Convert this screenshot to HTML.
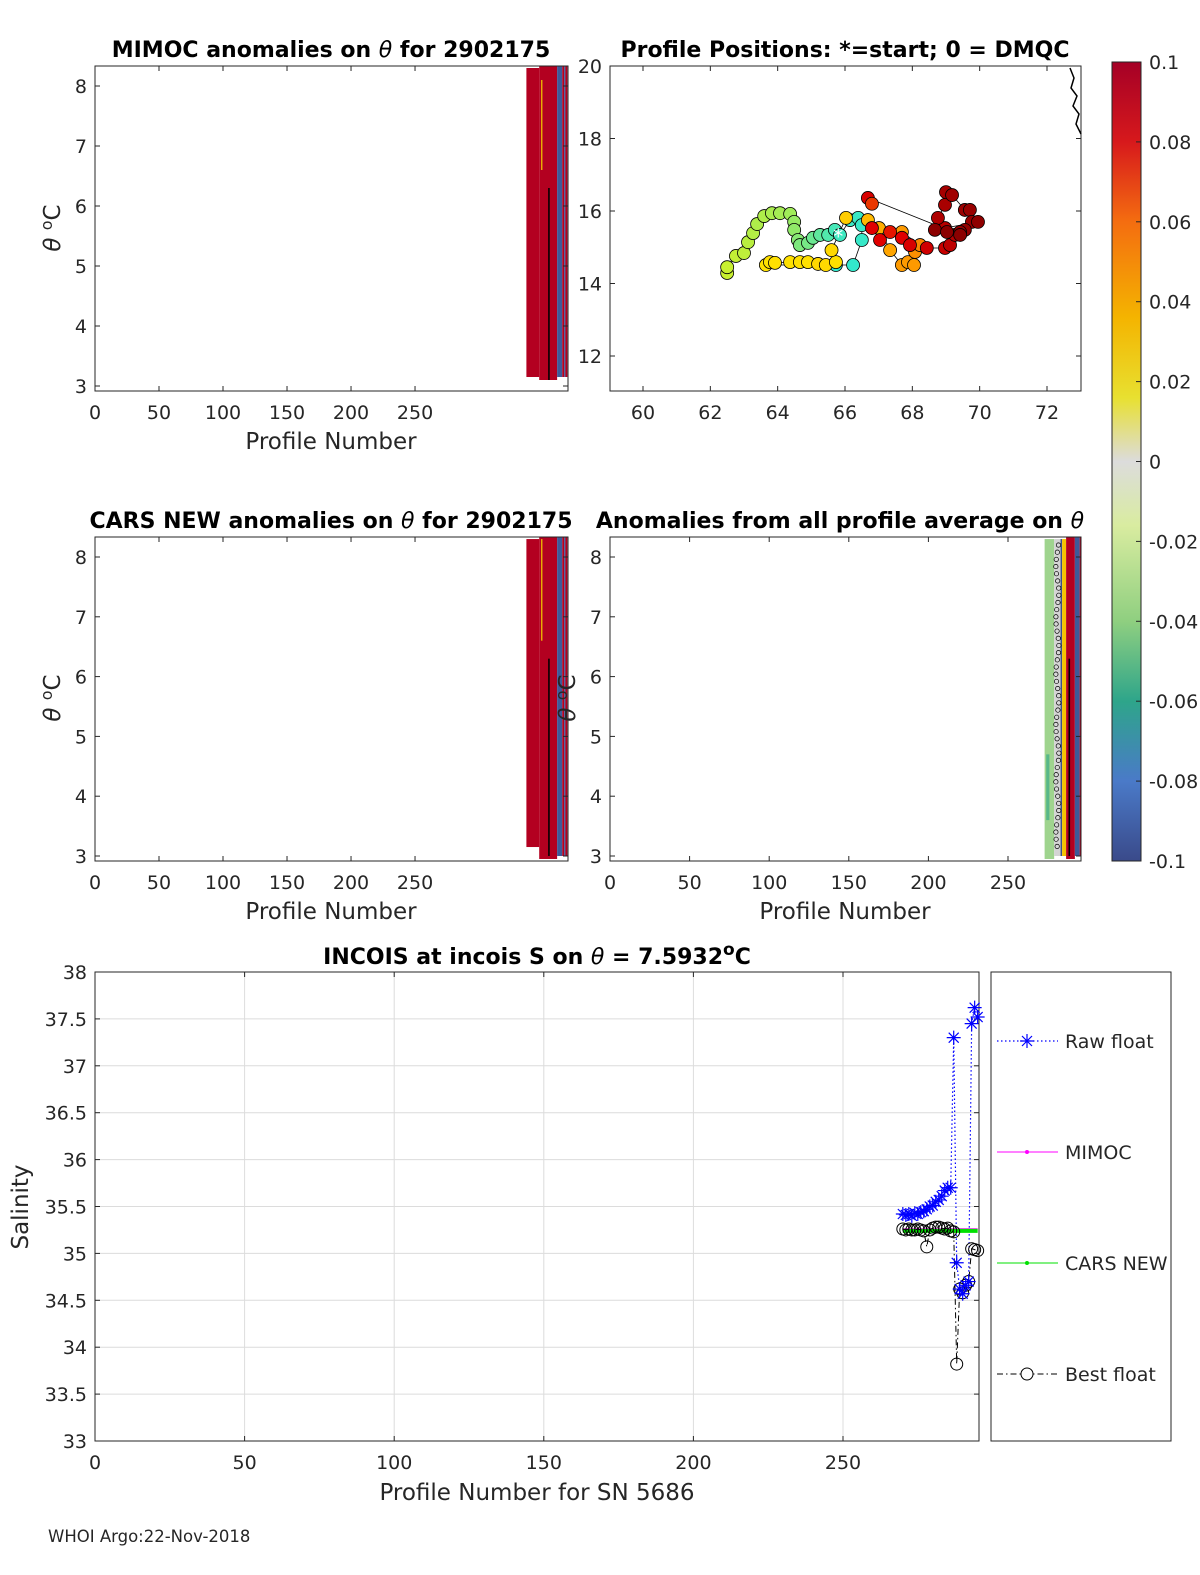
<!DOCTYPE html>
<html><head><meta charset="utf-8">
<style>
html,body{margin:0;padding:0;background:#fff;overflow:hidden;width:1200px;height:1575px;}
svg{display:block;font-family:"DejaVu Sans","Liberation Sans",sans-serif;}
.t{font-size:19px;fill:#262626}
.ti{font-size:22px;font-weight:bold;fill:#000}
.al{font-size:23px;fill:#262626}
.lg{font-size:19px;fill:#262626}
</style></head>
<body>
<svg id="fig" width="1200" height="1575" viewBox="0 0 1200 1575"></svg>
<script>
// ---------- data ----------
var profileNums=[270,271,272,273,274,275,276,277,278,279,280,281,282,283,284,285,286,287,288,289,290,291,292,293,294,295];
var rawFloat=[35.42,35.41,35.42,35.40,35.43,35.42,35.44,35.45,35.47,35.50,35.51,35.55,35.57,35.61,35.67,35.70,35.70,37.30,34.90,34.62,34.57,34.66,34.70,37.45,37.62,37.52];
var bestFloat=[35.26,35.25,35.26,35.25,35.25,35.26,35.25,35.24,35.07,35.25,35.27,35.28,35.28,35.27,35.26,35.27,35.24,35.23,33.82,34.62,34.58,34.66,34.70,35.05,35.04,35.03];
var mimocVals=[35.26,35.26,35.26,35.26,35.26,35.26,35.26,35.26,35.26,35.26,35.26,35.26,35.26,35.26,35.26,35.26,35.26,35.26,35.26,35.26,35.26,35.26,35.26,35.26,35.26,35.26];
var carsVals=[35.24,35.24,35.24,35.24,35.24,35.24,35.24,35.24,35.24,35.24,35.24,35.24,35.24,35.24,35.24,35.24,35.24,35.24,35.24,35.24,35.24,35.24,35.24,35.24,35.24,35.24];
var salTicks=[33,33.5,34,34.5,35,35.5,36,36.5,37,37.5,38];
var profTicksB=[0,50,100,150,200,250];
var thetaTicks=[3,4,5,6,7,8];
var lonTicks=[60,62,64,66,68,70,72];
var latTicks=[12,14,16,18,20];
var cbTicks=[0.1,0.08,0.06,0.04,0.02,0,-0.02,-0.04,-0.06,-0.08,-0.1];
var posLon=[62.5,62.5,62.76,63.0,63.12,63.27,63.39,63.6,63.83,64.07,64.37,64.49,64.49,64.6,64.66,64.9,65.05,65.26,65.5,65.7,65.85,66.15,66.39,66.5,66.5,66.24,65.73,63.65,63.77,63.92,64.37,64.66,64.9,65.2,65.43,65.73,65.6,66.03,66.68,67.01,67.34,67.69,67.87,68.05,68.08,68.23,67.69,66.8,67.04,67.34,67.69,67.93,68.43,68.97,69.12,69.27,68.97,68.76,68.97,69.0,69.18,69.56,69.71,69.77,69.56,69.42,69.95,68.67,69.03,69.42,66.68,66.8];
var posLat=[14.29,14.45,14.76,14.84,15.14,15.39,15.64,15.86,15.94,15.94,15.92,15.7,15.48,15.2,15.06,15.12,15.26,15.34,15.34,15.48,15.34,15.75,15.81,15.61,15.2,14.51,14.51,14.51,14.59,14.57,14.59,14.59,14.59,14.54,14.51,14.59,14.92,15.81,15.75,15.53,14.92,14.51,14.59,14.51,14.87,15.06,15.42,15.53,15.2,15.42,15.26,15.06,14.98,14.98,15.06,15.34,15.53,15.81,16.17,16.52,16.44,16.03,16.03,15.7,15.48,15.42,15.7,15.48,15.42,15.34,16.36,16.2];
var posCol=[0.35,0.35,0.34,0.33,0.32,0.31,0.3,0.3,0.29,0.28,0.27,0.25,0.24,0.22,0.2,0.18,0.15,0.12,0.08,0.05,0.03,0.02,0.02,0.01,0.01,0.0,0.0,0.5,0.5,0.5,0.5,0.5,0.5,0.52,0.52,0.5,0.52,0.55,0.6,0.63,0.65,0.66,0.66,0.66,0.67,0.68,0.66,0.8,0.8,0.78,0.8,0.82,0.84,0.86,0.88,0.9,0.9,0.92,0.93,0.94,0.95,0.96,0.97,0.97,0.98,0.98,0.99,1.0,1.0,1.0,0.82,0.75];
// heatmap columns: [profStart, profEnd, thetaTop, thetaBottom, color]
var mimocCols=[[337,347,8.3,3.15,"#b30020"],[347,361,8.33,3.1,"#b30020"],[348.5,349.5,8.1,6.6,"#f0c000"],[354,355.2,6.3,3.1,"#000"],[361,365,8.33,3.15,"#3d5a99"],[365,366.5,8.33,3.15,"#b30020"],[366.5,367.5,8.33,3.15,"#3d5a99"],[367.5,369,8.33,3.15,"#b30020"]];
var carsCols=[[337,347,8.3,3.15,"#b30020"],[347,361,8.33,2.95,"#b30020"],[348.5,349.5,8.3,6.6,"#f0c000"],[354,355.2,6.3,3.0,"#000"],[361,365,8.33,3.0,"#3d5a99"],[365,366.5,8.33,3.0,"#b30020"],[366.5,367.5,8.33,3.0,"#3d5a99"],[367.5,369,8.33,3.0,"#b30020"]];
var avgCols=[[273,279,8.3,2.95,"#9fd48e"],[274,276,4.7,3.6,"#58b88a"],[279,283,8.3,3.0,"#d4d4d4"],[283,284,8.3,3.0,"#3d4f8a"],[284,286.5,8.3,3.0,"#f5c400"],[286.5,292,8.33,2.95,"#b30020"],[288,289,6.3,3.0,"#000"],[292,295,8.33,3.0,"#3d5a99"],[295,296,8.33,3.0,"#b30020"]];

// ---------- helpers ----------
var NS="http://www.w3.org/2000/svg", svg=document.getElementById('fig');
function mk(tag,at,parent){var e=document.createElementNS(NS,tag);for(var k in at)e.setAttribute(k,at[k]);(parent||svg).appendChild(e);return e;}
function txt(s,x,y,cls,anchor,parent){var e=mk('text',{x:x,y:y,'class':cls,'text-anchor':anchor||'middle'},parent);e.textContent=s;return e;}
function lin(d0,d1,r0,r1){return function(v){return r0+(v-d0)/(d1-d0)*(r1-r0);};}
function axes(name){var g=mk('g',{});return g;}
function box(g,x0,y0,x1,y1){mk('rect',{x:x0,y:y0,width:x1-x0,height:y1-y0,fill:'none',stroke:'#262626','stroke-width':1},g);}
function xticks(g,ticks,sx,y0,y1,grid){ticks.forEach(function(t){var x=sx(t);if(grid)mk('line',{x1:x,x2:x,y1:y0,y2:y1,stroke:'#dcdcdc'},g);mk('line',{x1:x,x2:x,y1:y1,y2:y1-5,stroke:'#262626'},g);mk('line',{x1:x,x2:x,y1:y0,y2:y0+5,stroke:'#262626'},g);txt(String(t),x,y1+28,'t','middle',g);});}
function yticks(g,ticks,sy,x0,x1,grid){ticks.forEach(function(t){var y=sy(t);if(grid)mk('line',{x1:x0,x2:x1,y1:y,y2:y,stroke:'#dcdcdc'},g);mk('line',{x1:x0,x2:x0+5,y1:y,y2:y,stroke:'#262626'},g);mk('line',{x1:x1,x2:x1-5,y1:y,y2:y,stroke:'#262626'},g);txt(String(t),x0-8,y+7,'t','end',g);});}
function heat(g,cols,sx,sy){cols.forEach(function(c){var r=mk('rect',{x:sx(c[0]),y:sy(c[2]),width:sx(c[1])-sx(c[0]),height:sy(c[3])-sy(c[2]),fill:c[4]},g);});}
function thetaLabel(g,x,y){var t=mk('text',{x:0,y:0,'class':'al','text-anchor':'middle',transform:'translate('+x+','+y+') rotate(-90)'},g);t.innerHTML='<tspan font-style="italic">θ</tspan> <tspan dy="-8" font-size="16">o</tspan><tspan dy="8">C</tspan>';}

// ---------- top-left MIMOC ----------
(function(){var g=axes('mimoc-anomaly-panel');var sx=lin(0,369.5,95,568),sy=lin(8,3,86,386);
heat(g,mimocCols,sx,sy);box(g,95,66,568,391);xticks(g,profTicksB,sx,66,391);yticks(g,thetaTicks,sy,95,568);
var t=txt('',331,57,'ti','middle',g);t.innerHTML='MIMOC anomalies on <tspan font-style="italic" font-weight="normal">θ</tspan>  for 2902175';
txt('Profile Number',331,449,'al','middle',g);thetaLabel(g,60,228);})();

// ---------- top-right map ----------
(function(){var g=axes('profile-positions-map');var sx=lin(60,72,643,1047),sy=lin(20,12,66,356);
box(g,610,66,1081,391);xticks(g,lonTicks,sx,66,391);
latTicks.forEach(function(t){var y=sy(t);mk('line',{x1:610,x2:615,y1:y,y2:y,stroke:'#262626'},g);mk('line',{x1:1081,x2:1076,y1:y,y2:y,stroke:'#262626'},g);txt(String(t),602,y+7,'t','end',g);});
var pts=posLon.map(function(v,i){return sx(v)+','+sy(posLat[i]);}).join(' ');
var pl=mk('polyline',{points:pts,fill:'none',stroke:'#000','stroke-width':0.8},g);
var stops=[[0,[51,232,204]],[0.2,[125,232,125]],[0.35,[200,240,48]],[0.5,[255,224,0]],[0.65,[255,165,0]],[0.8,[224,0,0]],[1,[139,0,0]]];
function cmap(v){for(var i=1;i<stops.length;i++){if(v<=stops[i][0]){var a=stops[i-1],b=stops[i],f=(v-a[0])/(b[0]-a[0]);return 'rgb('+a[1].map(function(c,j){return Math.round(c+f*(b[1][j]-c));}).join(',')+')';}}return 'rgb(139,0,0)';}
posLon.forEach(function(v,i){var c=mk('circle',{cx:sx(v),cy:sy(posLat[i]),r:6.5,fill:cmap(posCol[i]),stroke:'#000','stroke-width':0.8},g);});
mk('text',{x:sx(65.8),y:sy(15.3)+7,'font-size':'20px',fill:'#fff','text-anchor':'middle'},g).textContent='*';
mk('polyline',{points:'1070,68 1074,78 1071,88 1077,96 1073,106 1079,114 1076,124 1081,134',fill:'none',stroke:'#000','stroke-width':1.5},g);
var t=txt('Profile Positions: *=start; 0 = DMQC',845,57,'ti','middle',g);})();

// ---------- colorbar ----------
(function(){var g=axes('colorbar');var d=mk('defs',{},g);var lg=mk('linearGradient',{id:'cb',x1:0,y1:0,x2:0,y2:1},d);
[['0','#a50026'],['0.1','#d7191c'],['0.2','#f46d10'],['0.32','#f4b400'],['0.42','#e8e030'],['0.5','#dcdcdc'],['0.58','#d9eca0'],['0.7','#8fcf80'],['0.8','#2ea58a'],['0.9','#4a7ac8'],['1','#3a4a8a']].forEach(function(s){mk('stop',{offset:s[0],'stop-color':s[1]},lg);});
mk('rect',{x:1112,y:62,width:29,height:799,fill:'url(#cb)',stroke:'#262626'},g);
var sy=lin(0.1,-0.1,62,861);cbTicks.forEach(function(t){var y=sy(t);mk('line',{x1:1136,x2:1141,y1:y,y2:y,stroke:'#262626'},g);txt(String(t),1149,y+7,'t','start',g);});})();

// ---------- mid-left CARS ----------
(function(){var g=axes('cars-anomaly-panel');var sx=lin(0,369.5,95,568),sy=lin(8,3,557,856);
heat(g,carsCols,sx,sy);box(g,95,537,568,861);xticks(g,profTicksB,sx,537,861);yticks(g,thetaTicks,sy,95,568);
var t=txt('',331,528,'ti','middle',g);t.innerHTML='CARS NEW anomalies on <tspan font-style="italic" font-weight="normal">θ</tspan> for 2902175';
txt('Profile Number',331,919,'al','middle',g);thetaLabel(g,60,698);})();

// ---------- mid-right average ----------
(function(){var g=axes('profile-average-anomaly-panel');var sx=lin(0,250,610,1008),sy=lin(8,3,557,856);
heat(g,avgCols,sx,sy);
var cx=sx(281);for(var th=8.2;th>3.1;th-=0.12){mk('circle',{cx:cx+Math.sin(th*7)*1.5,cy:sy(th),r:2.2,fill:'#d8d8d8',stroke:'#000','stroke-width':0.7},g);}
box(g,610,537,1081,861);xticks(g,profTicksB,sx,537,861);yticks(g,thetaTicks,sy,610,1081);
var t=txt('',840,528,'ti','middle',g);t.innerHTML='Anomalies from all profile average on <tspan font-style="italic" font-weight="normal">θ</tspan>';
txt('Profile Number',845,919,'al','middle',g);thetaLabel(g,575,698);})();

// ---------- bottom salinity ----------
(function(){var g=axes('incois-salinity-panel');var sx=lin(0,250,95,843),sy=lin(38,33,972,1441);
mk('rect',{x:95,y:972,width:884,height:469,fill:'#fff'},g);
xticks(g,profTicksB,sx,972,1441,true);yticks(g,salTicks,sy,95,979,true);box(g,95,972,979,1441);
function path(vals){return profileNums.map(function(p,i){return sx(p)+','+sy(vals[i]);}).join(' ');}
var r=mk('polyline',{points:path(rawFloat),fill:'none',stroke:'#0000ff','stroke-width':1.2,'stroke-dasharray':'1.5,2.5'},g);
var m=mk('polyline',{points:path(mimocVals),fill:'none',stroke:'#ff00ff','stroke-width':1.5},g);
var c=mk('polyline',{points:path(carsVals),fill:'none',stroke:'#00e000','stroke-width':4},g);
var b=mk('polyline',{points:path(bestFloat),fill:'none',stroke:'#000','stroke-width':1,'stroke-dasharray':'6,3,1.5,3'},g);
profileNums.forEach(function(p,i){var x=sx(p),y=sy(bestFloat[i]);var o=mk('circle',{cx:x,cy:y,r:6,fill:'none',stroke:'#000','stroke-width':1},g);});
profileNums.forEach(function(p,i){var x=sx(p),y=sy(rawFloat[i]);var s=mk('path',{d:'M'+(x-7)+','+y+'h14M'+x+','+(y-7)+'v14M'+(x-5)+','+(y-5)+'l10,10M'+(x+5)+','+(y-5)+'l-10,10',stroke:'#0000ff','stroke-width':1.2},g);});
var t=txt('',537,964,'ti','middle',g);t.innerHTML='INCOIS at incois S on <tspan font-style="italic" font-weight="normal">θ</tspan> = 7.5932<tspan dy="-9" font-size="17">o</tspan><tspan dy="9">C</tspan>';
txt('Profile Number for SN 5686',537,1500,'al','middle',g);
var yl=txt('Salinity',0,0,'al','middle',g);yl.setAttribute('transform','translate(28,1207) rotate(-90)');})();

// ---------- legend ----------
(function(){var g=axes('legend');mk('rect',{x:991,y:972,width:180,height:469,fill:'#fff',stroke:'#262626'},g);
var e1=mk('g',{},g);
mk('line',{x1:997,x2:1058,y1:1041,y2:1041,stroke:'#0000ff','stroke-dasharray':'1.5,2.5','stroke-width':1.2},e1);
mk('path',{d:'M1020,1041h14M1027,1034v14M1022,1036l10,10M1032,1036l-10,10',stroke:'#0000ff','stroke-width':1.2},e1);txt('Raw float',1065,1048,'lg','start',e1);
var e2=mk('g',{},g);
mk('line',{x1:997,x2:1058,y1:1152,y2:1152,stroke:'#ff00ff'},e2);mk('circle',{cx:1027,cy:1152,r:2,fill:'#ff00ff'},e2);txt('MIMOC',1065,1159,'lg','start',e2);
var e3=mk('g',{},g);
mk('line',{x1:997,x2:1058,y1:1263,y2:1263,stroke:'#00e000'},e3);mk('circle',{cx:1027,cy:1263,r:2,fill:'#00e000'},e3);txt('CARS NEW',1065,1270,'lg','start',e3);
var e4=mk('g',{},g);
mk('line',{x1:997,x2:1058,y1:1374,y2:1374,stroke:'#000','stroke-dasharray':'6,3,1.5,3'},e4);mk('circle',{cx:1027,cy:1374,r:6,fill:'#fff',stroke:'#000'},e4);txt('Best float',1065,1381,'lg','start',e4);})();

var ft=txt('WHOI Argo:22-Nov-2018',48,1542,'t','start');ft.setAttribute('style','font-size:16.5px');


</script>
</body></html>
